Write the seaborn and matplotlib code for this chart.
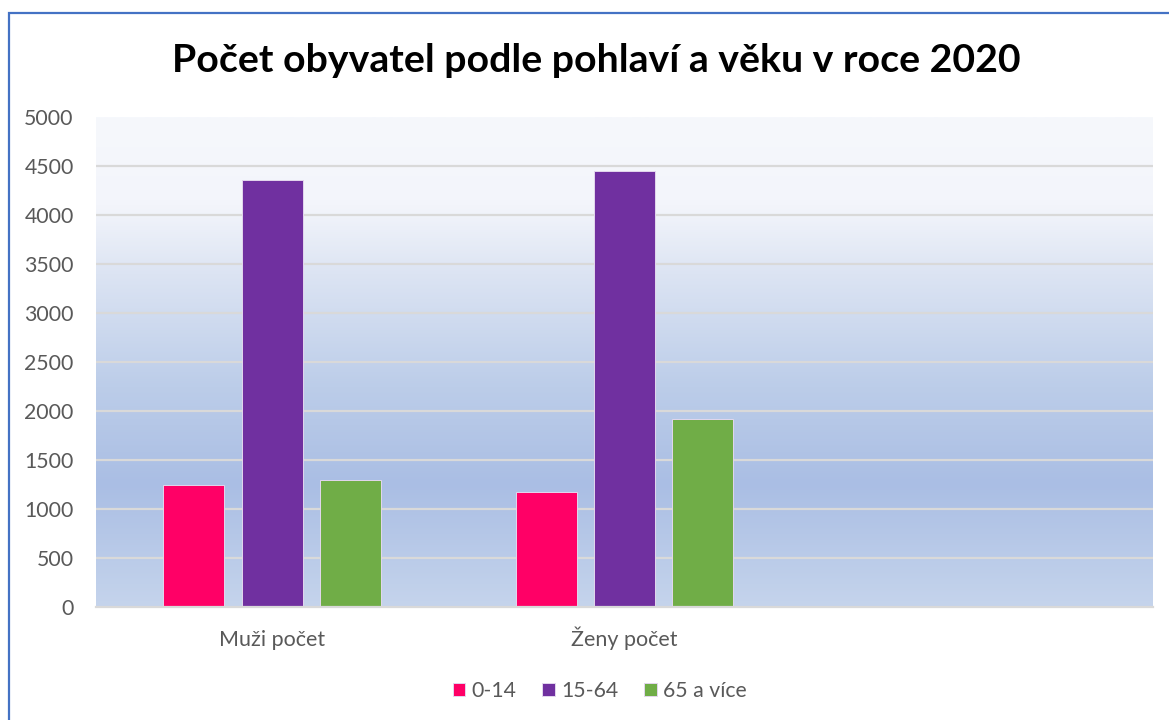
import numpy as np
import pandas as pd
import matplotlib
matplotlib.use("Agg")
import matplotlib.pyplot as plt
import seaborn as sns
from matplotlib.colors import LinearSegmentedColormap
from matplotlib.patches import Rectangle

# data
groups = ["Muži počet", "Ženy počet"]
age_bands = ["0-14", "15-64", "65 a více"]
muzi_values = [1250, 4360, 1300]
zeny_values = [1170, 4450, 1915]
band_colors = ["#FF0066", "#7030A0", "#70AD47"]
y_ticks = list(range(0, 5001, 500))

df = pd.DataFrame({
    "skupina": [groups[0]] * 3 + [groups[1]] * 3,
    "vek": age_bands * 2,
    "pocet": muzi_values + zeny_values,
})

sns.set_style("white")
plt.rcParams["font.family"] = ["Lato", "DejaVu Sans"]

fig = plt.figure(figsize=(11.69, 7.2), dpi=100)
ax = fig.add_axes([96 / 1169, 1 - 607 / 720, (1153 - 96) / 1169, (607 - 117) / 720])

# Excel style gradient fill behind the bars
grad = LinearSegmentedColormap.from_list("bg", [
    (0.00, "#c5d4ec"),
    (0.25, "#aabee4"),
    (0.45, "#bccde9"),
    (0.68, "#dce4f3"),
    (0.82, "#f3f5fb"),
    (1.00, "#f6f8fc"),
])
ax.imshow(np.linspace(0, 1, 256).reshape(-1, 1), cmap=grad, origin="lower",
          extent=[-0.5, 2.5, 0, 5000], aspect="auto", zorder=0)

for yv in y_ticks[1:-1]:
    ax.axhline(yv, color="#d9d9d9", lw=1.6, zorder=1)

sns.barplot(data=df, x="skupina", y="pocet", hue="vek", order=groups,
            hue_order=age_bands, palette=band_colors, saturation=1,
            width=0.667, gap=0.22, edgecolor="#e3d7ee", linewidth=0.7,
            ax=ax, zorder=2)

ax.set_xlim(-0.5, 2.5)
ax.set_ylim(0, 5000)
ax.set_yticks(y_ticks)
ax.set_xticks([0, 1])
ax.set_xticklabels(groups)
ax.set_xlabel("")
ax.set_ylabel("")
ax.tick_params(axis="y", length=0, pad=16, labelsize=15.3, labelcolor="#595959")
ax.tick_params(axis="x", length=0, pad=28, labelsize=15.5, labelcolor="#595959")
for lbl in ax.get_xticklabels():
    lbl.set_verticalalignment("baseline")
for side in ["top", "right", "left"]:
    ax.spines[side].set_visible(False)
ax.spines["bottom"].set_color("#d9d9d9")
ax.spines["bottom"].set_linewidth(1.6)
ax.spines["bottom"].set_zorder(3)

handles, labels = ax.get_legend_handles_labels()
ax.get_legend().remove()
fig.legend(handles, labels, loc="center", bbox_to_anchor=(0.513, 1 - 691 / 720),
           ncol=3, frameon=False, fontsize=15.3, handlelength=0.6, handleheight=0.6,
           handletextpad=0.3, columnspacing=1.2, labelcolor="#595959")

fig.text(0.51, 1 - 60 / 720, "Počet obyvatel podle pohlaví a věku v roce 2020",
         ha="center", va="center", fontsize=28.3, fontweight="bold", color="black")

# chart frame: only the top and left edges are in view
fig.add_artist(Rectangle((9 / 1169, -0.2), 1.2, (720 - 13) / 720 + 0.2,
                         transform=fig.transFigure, fill=False,
                         edgecolor="#4472C4", lw=1.6))

fig.savefig("out.png", dpi=100, facecolor="white")
